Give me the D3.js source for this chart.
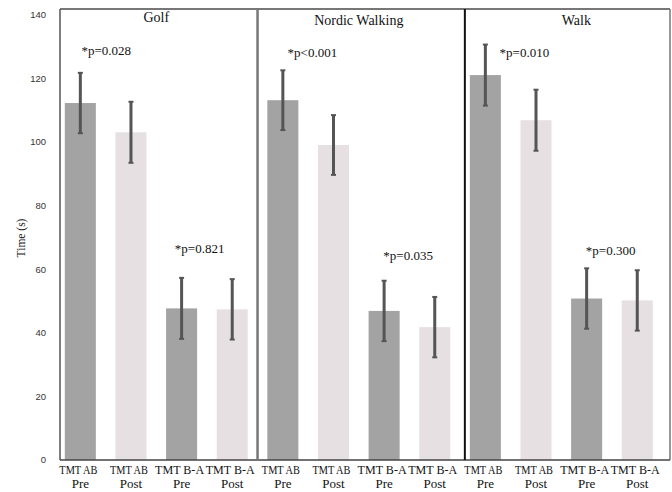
<!DOCTYPE html>
<html><head><meta charset="utf-8">
<script src="https://cdn.jsdelivr.net/npm/d3@7/dist/d3.min.js"></script>
<style>body{margin:0;background:#fff}</style>
</head><body>
<svg id="c" width="672" height="492"></svg>
<script>
const groups = ["Golf", "Nordic Walking", "Walk"];
const measures = ["TMT AB Pre", "TMT AB Post", "TMT B-A Pre", "TMT B-A Post"];
const measureLine1 = ["TMT AB", "TMT AB", "TMT B-A", "TMT B-A"];
const measureLine2 = ["Pre", "Post", "Pre", "Post"];
const golfMeans = [112.3, 103.1, 47.7, 47.4];
const golfErrors = [9.5, 9.6, 9.6, 9.5];
const nordicMeans = [113.2, 99.1, 46.9, 41.8];
const nordicErrors = [9.4, 9.4, 9.5, 9.5];
const walkMeans = [121.1, 106.9, 50.8, 50.2];
const walkErrors = [9.6, 9.6, 9.5, 9.5];
const pLabelsAB = ["*p=0.028", "*p<0.001", "*p=0.010"];
const pLabelsBA = ["*p=0.821", "*p=0.035", "*p=0.300"];
const yTicks = [0, 20, 40, 60, 80, 100, 120, 140];

// layout constants (pixel offsets of annotations)
const pABLayout = [{dx: 26, y: 55}, {dx: 29.5, y: 56.5}, {dx: 39, y: 57}];
const pBALayout = [{dx: 18, y: 252.5}, {dx: 24, y: 259.5}, {dx: 24, y: 255}];
const SERIF = "'Liberation Serif', 'Times New Roman', Times, serif";

const meansByGroup = [golfMeans, nordicMeans, walkMeans];
const errorsByGroup = [golfErrors, nordicErrors, walkErrors];
const data = [];
groups.forEach((g, gi) => measures.forEach((m, mi) => data.push({
  key: g + "|" + m, group: g, gi, mi, mean: meansByGroup[gi][mi], err: errorsByGroup[gi][mi]
})));

const svg = d3.select("#c");
const x = d3.scaleBand().domain(data.map(d => d.key)).range([55.2, 662.4]).paddingInner(0.387).paddingOuter(0.19);
const y = d3.scaleLinear().domain([0, 140]).range([460, 15]);
const frameL = 60, frameR = 670, frameT = 9, frameB = 460;
const cx = d => x(d.key) + x.bandwidth() / 2;

// bars
svg.selectAll("rect.bar").data(data).join("rect")
  .attr("x", d => x(d.key)).attr("width", x.bandwidth())
  .attr("y", d => y(d.mean)).attr("height", d => y(0) - y(d.mean))
  .attr("fill", d => d.mi % 2 === 0 ? "#a3a3a3" : "#e7e0e3");

// frame
svg.append("line").attr("x1", frameL).attr("x2", frameR).attr("y1", frameT).attr("y2", frameT).attr("stroke", "#777").attr("stroke-width", 2);
svg.append("line").attr("x1", frameL).attr("x2", frameL).attr("y1", frameT).attr("y2", frameB).attr("stroke", "#555").attr("stroke-width", 1.5);
svg.append("line").attr("x1", frameR).attr("x2", frameR).attr("y1", frameT).attr("y2", frameB).attr("stroke", "#777").attr("stroke-width", 1.5);
svg.append("line").attr("x1", frameL).attr("x2", frameR).attr("y1", frameB).attr("y2", frameB).attr("stroke", "#444").attr("stroke-width", 1.5);
// dividers
const div1 = (x(groups[0] + "|" + measures[3]) + x.bandwidth() + x(groups[1] + "|" + measures[0])) / 2;
const div2 = x(groups[2] + "|" + measures[0]) - 5;
svg.append("line").attr("x1", div1).attr("x2", div1).attr("y1", frameT).attr("y2", frameB).attr("stroke", "#777").attr("stroke-width", 2.5);
svg.append("line").attr("x1", div2).attr("x2", div2).attr("y1", frameT).attr("y2", frameB).attr("stroke", "#111").attr("stroke-width", 2);

// error bars
const eb = svg.selectAll("g.eb").data(data).join("g");
eb.append("line").attr("x1", cx).attr("x2", cx)
  .attr("y1", d => y(d.mean + d.err)).attr("y2", d => y(d.mean - d.err)).attr("stroke", "#555").attr("stroke-width", 3);
[1, -1].forEach(s => eb.append("line")
  .attr("x1", d => cx(d) - 2.5).attr("x2", d => cx(d) + 2.5)
  .attr("y1", d => y(d.mean + s * d.err)).attr("y2", d => y(d.mean + s * d.err)).attr("stroke", "#555").attr("stroke-width", 2));

// y axis ticks
svg.append("g").selectAll("text").data(yTicks).join("text")
  .attr("x", 46).attr("y", d => y(d)).attr("dy", "0.35em").attr("text-anchor", "end")
  .attr("font-family", "'Liberation Sans', Arial, sans-serif").attr("font-size", 9.5).attr("fill", "#333").text(d => d);
svg.append("text").attr("transform", "translate(21,238) rotate(-90)").attr("text-anchor", "middle").attr("dy", "0.35em")
  .attr("font-family", SERIF).attr("font-size", 11.5).attr("fill", "#111").text("Time (s)");

// x labels
const xl = svg.append("g").selectAll("text").data(data).join("text")
  .attr("text-anchor", "middle").attr("font-family", SERIF)
  .attr("font-size", 13).attr("fill", "#111");
xl.append("tspan").attr("x", d => cx(d) - 2).attr("y", 474)
  .attr("textLength", d => d.mi < 2 ? 38 : 49).attr("lengthAdjust", "spacingAndGlyphs")
  .text(d => measureLine1[d.mi]);
xl.append("tspan").attr("x", cx).attr("y", 488).text(d => measureLine2[d.mi]);

// panel titles
const titleX = gi => (x(groups[gi] + "|" + measures[1]) + x(groups[gi] + "|" + measures[2]) + x.bandwidth()) / 2;
svg.append("g").selectAll("text").data(groups).join("text")
  .attr("x", (d, i) => titleX(i) + (i === 2 ? 15 : 0)).attr("y", (d, i) => i === 0 ? 22 : 25)
  .attr("text-anchor", "middle").attr("font-family", SERIF)
  .attr("font-size", 14).attr("fill", "#111").text(d => d);

// p-values
svg.append("g").selectAll("text").data(groups).join("text")
  .attr("x", (g, gi) => x(g + "|" + measures[0]) + x.bandwidth() / 2 + pABLayout[gi].dx)
  .attr("y", (g, gi) => pABLayout[gi].y)
  .attr("text-anchor", "middle").attr("font-family", SERIF)
  .attr("font-size", 13).attr("fill", "#111").text((g, gi) => pLabelsAB[gi]);
svg.append("g").selectAll("text").data(groups).join("text")
  .attr("x", (g, gi) => x(g + "|" + measures[2]) + x.bandwidth() / 2 + pBALayout[gi].dx)
  .attr("y", (g, gi) => pBALayout[gi].y)
  .attr("text-anchor", "middle").attr("font-family", SERIF)
  .attr("font-size", 13).attr("fill", "#111").text((g, gi) => pLabelsBA[gi]);
</script>
</body></html>
